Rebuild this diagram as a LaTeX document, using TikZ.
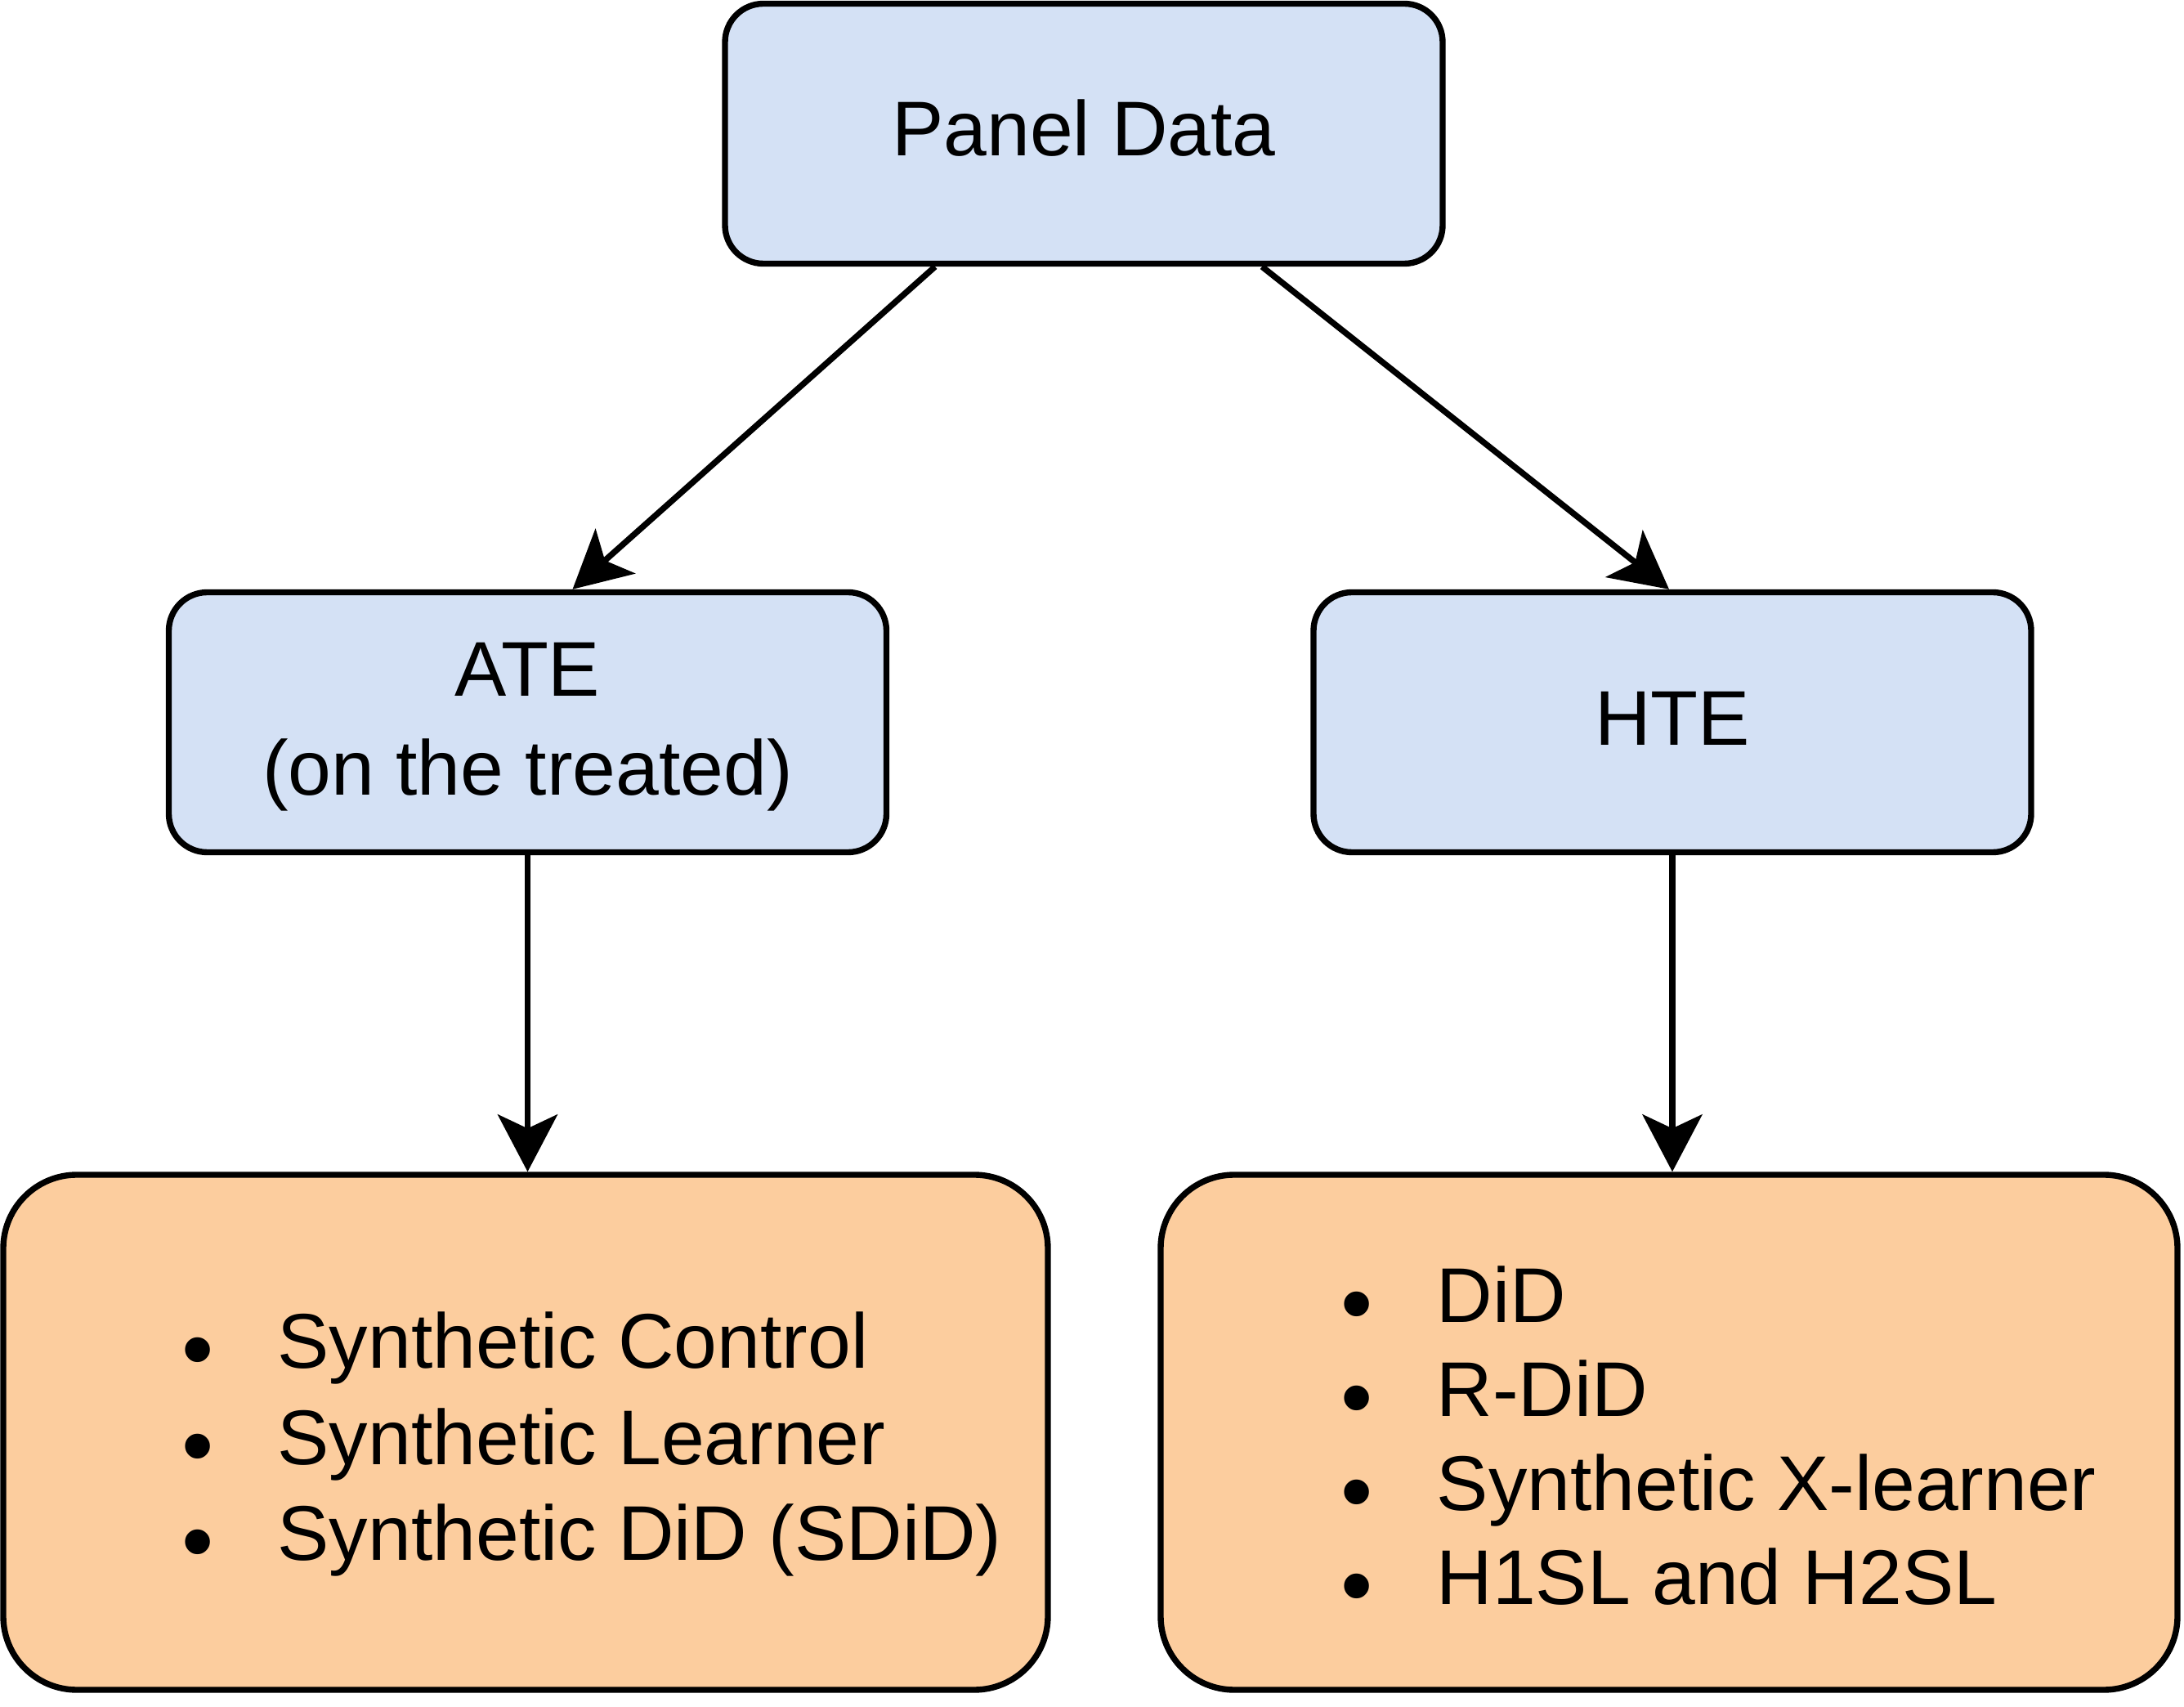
\documentclass[tikz,border=0pt]{standalone}
\usepackage{fontspec}
\setmainfont{Liberation Sans}
\usepackage{tikz}
\usetikzlibrary{arrows.meta,calc,positioning}
\definecolor{topblue}{HTML}{D4E1F5}
\definecolor{listorange}{HTML}{FCCD9E}
\newcommand{\bul}{\makebox[1.17cm][l]{\raisebox{-0.15cm}{\scalebox{1.18}{\textbullet}}}}
\tikzset{
  topic/.style={draw, line width=2.1pt, rounded corners=0.47cm, fill=topblue, minimum width=8.78cm, minimum height=3.18cm, align=center, font=\fontsize{27}{34.5}\selectfont},
  methods/.style={draw, line width=2.1pt, rounded corners=0.9cm, fill=listorange, minimum height=6.3cm},
  itemlist/.style={inner sep=0pt, align=left, anchor=west, font=\fontsize{27}{33.5}\selectfont},
  flow/.style={-{Stealth[length=0.70cm, width=0.73cm, inset=0.17cm]}, line width=2.1pt}
}
\begin{document}
\begin{tikzpicture}[x=1cm,y=1cm]
  \useasboundingbox (0,0) rectangle (26.72,-20.88);
  \node[topic, text depth=0.14cm] (panel) at (13.26,-1.635) {Panel Data};
  \node[topic, text depth=0.08cm] (ate) at (6.455,-8.835) {ATE\\(on the treated)};
  \node[topic, text depth=0.1cm] (hte) at (20.46,-8.835) {HTE};

  \node[methods, minimum width=12.78cm] (atebox) at (6.43,-17.52) {};
  \node[methods, minimum width=12.44cm] (htebox) at (20.42,-17.52) {};
  \node[itemlist] (atelist) at (2.22,-17.665) {\bul Synthetic Control\\\bul Synthetic Learner\\\bul Synthetic DiD (SDiD)};
  \node[itemlist, font=\fontsize{27}{32.7}\selectfont] (htelist) at (16.40,-17.63) {\bul DiD\\\bul R-DiD\\\bul Synthetic X-learner\\\bul H1SL and H2SL};

  \draw[flow] ([xshift=-1.82cm]panel.south) -- ([xshift=0.55cm]ate.north);
  \draw[flow] ([xshift=2.18cm]panel.south) -- ([xshift=-0.04cm]hte.north);
  \draw[flow] (ate.south) -- (ate.south |- atebox.north);
  \draw[flow] (hte.south) -- (hte.south |- htebox.north);
\end{tikzpicture}
\end{document}
